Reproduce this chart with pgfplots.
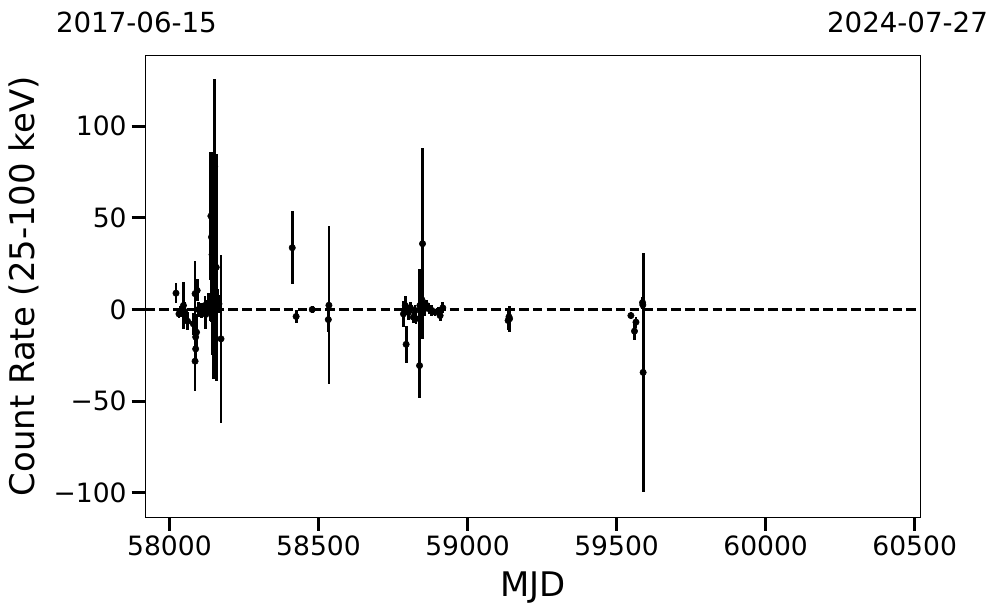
\documentclass[border=0pt]{standalone}
\usepackage{fontspec}
\setmainfont{DejaVu Sans}
\usepackage{pgfplots}
\pgfplotsset{compat=1.18}
\usepackage{pgfplotstable}

% MJD, count rate, error
\pgfplotstableread{
x y e
58022 8.9 5.6
58032 -2.4 2.5
58037 -1.0 3
58047 2.2 13
58050 -1.0 5
58061 -6.4 5
58080 -7.8 6
58086 8.6 18
58093 10.4 6
58091 -12.4 10
58088 -15.0 8
58088 -21.5 8
58086 -28.2 16
58097 0.0 4
58108 -0.5 4
58119 2.2 5
58122 -2.7 8
58130 3.1 6
58136 -1.0 5
58139 51.0 35
58141 39.5 46.5
58143 30.0 55
58152 78.0 48
58157 23.0 62
58145 4.9 8
58148 10.0 48
58150 -3.0 10
58162 5.0 6
58166 3.1 5
58173 -16.0 46
58412 33.7 20
58425 -3.8 3.8
58479 0.0 2
58535 2.3 43
58533 -5.5 6.5
58785 -2.4 7
58791 2.2 5
58794 -19.0 10
58802 -1.5 4
58808 1.0 3
58818 -4.2 3
58824 -0.5 3
58827 -5.0 3
58839 -30.6 17.6
58840 2.2 20
58847 5.3 4
58849 35.9 52
58855 0.4 4
58863 2.2 3
58871 0.4 3
58880 -0.5 3
58891 -1.5 2
58902 -0.9 2
58908 -3.3 3
58917 0.9 3
59136 -6.0 5
59139 -4.0 4
59141 -5.0 7
59548 -3.3 2
59560 -11.8 5
59565 -6.9 3
59587 3.8 3
59588 2.5 2
59589 -34.3 65
}\rates

\begin{document}
\begin{tikzpicture}
\useasboundingbox (-105.0pt,-69.2pt) rectangle (615.5pt,373.9pt);
\begin{axis}[
  at={(0pt,0pt)}, anchor=south west,
  scale only axis,
  width=559.9pt, height=334.1pt,
  xmin=57919, xmax=60518,
  ymin=-113.4, ymax=138.8,
  scaled x ticks=false, scaled y ticks=false,
  xtick={58000,58500,59000,59500,60000,60500},
  xticklabels={58000,58500,59000,59500,60000,60500},
  ytick={-100,-50,0,50,100},
  yticklabels={−100,−50,0,50,100},
  xtick pos=left, ytick pos=left,
  tick align=outside,
  major tick length=9.8pt,
  minor tick num=0,
  tick style={black, line width=2pt},
  axis line style={line width=0.8pt},
  xticklabel style={font=\fontsize{19.2}{22}\selectfont, anchor=base, inner sep=0pt, yshift=-17.8pt},
  yticklabel style={font=\fontsize{19.2}{22}\selectfont, anchor=east, inner sep=0pt, xshift=-3.5pt},
  xlabel={MJD},
  ylabel={Count Rate (25-100 keV)},
  xlabel style={font=\fontsize{24.5}{28}\selectfont, at={(axis description cs:0.5,-0.1702)}, anchor=base},
  ylabel style={font=\fontsize{24.5}{28}\selectfont, at={(axis description cs:-0.1427,0.5)}, anchor=base},
]
\addplot[black, line width=1.5pt, dash pattern=on 7pt off 3pt, forget plot]
  coordinates {(57919,0) (60518,0)};
\addplot[black, only marks, mark=*, mark size=2.3pt,
  error bars/.cd, y dir=both, y explicit,
  error bar style={line width=2pt, black}, error mark=none]
  table[x=x, y=y, y error=e] {\rates};
\end{axis}
\node[anchor=base, font=\fontsize{20}{24}\selectfont] at (-6.4pt,350.7pt) {2017-06-15};
\node[anchor=base, font=\fontsize{20}{24}\selectfont] at (550.8pt,350.7pt) {2024-07-27};
\end{tikzpicture}
\end{document}
